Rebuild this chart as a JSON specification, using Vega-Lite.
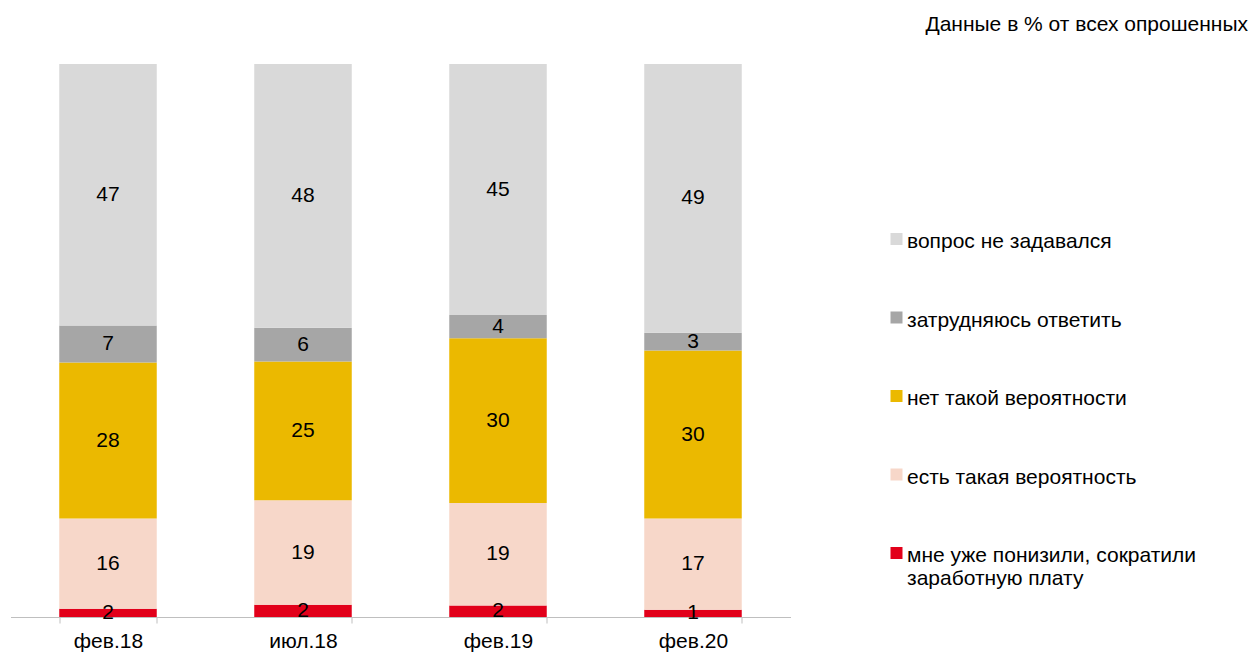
{
  "$schema": "https://vega.github.io/schema/vega-lite/v6.json",
  "width": 780,
  "height": 553,
  "autosize": {"type": "none"},
  "padding": {"left": 10.5, "top": 64, "right": 467.5, "bottom": 37},
  "background": "#ffffff",
  "config": {
    "view": {"stroke": null},
    "font": "Liberation Sans",
    "axis": {
      "title": null,
      "domainColor": "#bfbfbf",
      "tickColor": "#bfbfbf",
      "tickSize": 6,
      "tickBand": "extent",
      "labelFontSize": 21,
      "labelColor": "#000000",
      "labelFont": "Liberation Sans",
      "labelPadding": 7.5,
      "labelAngle": 0,
      "grid": false
    },
    "legend": {
      "orient": "none",
      "legendX": 875.5,
      "legendY": 156.5,
      "padding": 0,
      "symbolType": "M-1,0.333H1V2.333H-1Z",
      "symbolSize": 144,
      "symbolStrokeWidth": 0,
      "symbolOpacity": 1,
      "labelFontSize": 21,
      "labelFont": "Liberation Sans",
      "labelColor": "#000000",
      "labelBaseline": "top",
      "labelOffset": 0,
      "labelLimit": 400,
      "rowPadding": 46.5
    }
  },
  "title": {
    "text": "Данные в % от всех опрошенных",
    "anchor": "end",
    "frame": "group",
    "dx": 457.5,
    "fontSize": 21,
    "fontWeight": "normal",
    "color": "#000000",
    "font": "Liberation Sans",
    "baseline": "alphabetic",
    "offset": 12
  },
  "data": {
    "values": [
      {"period": "фев.18", "cat": "мне уже понизили, сократили заработную плату", "k": 1, "value": 1.5, "lbl": 2},
      {"period": "фев.18", "cat": "есть такая вероятность", "k": 2, "value": 16.3, "lbl": 16},
      {"period": "фев.18", "cat": "нет такой вероятности", "k": 3, "value": 28.2, "lbl": 28},
      {"period": "фев.18", "cat": "затрудняюсь ответить", "k": 4, "value": 6.7, "lbl": 7},
      {"period": "фев.18", "cat": "вопрос не задавался", "k": 5, "value": 47.3, "lbl": 47},
      {"period": "июл.18", "cat": "мне уже понизили, сократили заработную плату", "k": 1, "value": 2.2, "lbl": 2},
      {"period": "июл.18", "cat": "есть такая вероятность", "k": 2, "value": 18.9, "lbl": 19},
      {"period": "июл.18", "cat": "нет такой вероятности", "k": 3, "value": 25.1, "lbl": 25},
      {"period": "июл.18", "cat": "затрудняюсь ответить", "k": 4, "value": 6.1, "lbl": 6},
      {"period": "июл.18", "cat": "вопрос не задавался", "k": 5, "value": 47.7, "lbl": 48},
      {"period": "фев.19", "cat": "мне уже понизили, сократили заработную плату", "k": 1, "value": 2.1, "lbl": 2},
      {"period": "фев.19", "cat": "есть такая вероятность", "k": 2, "value": 18.5, "lbl": 19},
      {"period": "фев.19", "cat": "нет такой вероятности", "k": 3, "value": 29.8, "lbl": 30},
      {"period": "фев.19", "cat": "затрудняюсь ответить", "k": 4, "value": 4.2, "lbl": 4},
      {"period": "фев.19", "cat": "вопрос не задавался", "k": 5, "value": 45.4, "lbl": 45},
      {"period": "фев.20", "cat": "мне уже понизили, сократили заработную плату", "k": 1, "value": 1.3, "lbl": 1},
      {"period": "фев.20", "cat": "есть такая вероятность", "k": 2, "value": 16.5, "lbl": 17},
      {"period": "фев.20", "cat": "нет такой вероятности", "k": 3, "value": 30.4, "lbl": 30},
      {"period": "фев.20", "cat": "затрудняюсь ответить", "k": 4, "value": 3.2, "lbl": 3},
      {"period": "фев.20", "cat": "вопрос не задавался", "k": 5, "value": 48.6, "lbl": 49}
    ]
  },
  "encoding": {
    "x": {
      "field": "period",
      "type": "nominal",
      "sort": ["фев.18", "июл.18", "фев.19", "фев.20"],
      "scale": {"paddingInner": 0.5, "paddingOuter": 0.25}
    }
  },
  "layer": [
    {
      "mark": {"type": "bar"},
      "encoding": {
        "y": {"field": "value", "type": "quantitative", "stack": "zero", "scale": {"domain": [0, 100]}, "axis": null},
        "color": {
          "field": "cat",
          "type": "nominal",
          "scale": {
            "domain": ["вопрос не задавался", "затрудняюсь ответить", "нет такой вероятности", "есть такая вероятность", "мне уже понизили, сократили заработную плату"],
            "range": ["#d9d9d9", "#a6a6a6", "#ebb900", "#f7d7c9", "#e2001a"]
          },
          "legend": {
            "title": null,
            "labelExpr": "datum.label == 'мне уже понизили, сократили заработную плату' ? ['мне уже понизили, сократили', 'заработную плату'] : datum.label"
          }
        },
        "order": {"field": "k", "type": "quantitative"}
      }
    },
    {
      "mark": {"type": "text", "fontSize": 21, "color": "#000000", "font": "Liberation Sans"},
      "encoding": {
        "y": {"field": "value", "type": "quantitative", "stack": "zero", "bandPosition": 0.5},
        "detail": {"field": "cat", "type": "nominal"},
        "text": {"field": "lbl", "type": "quantitative"},
        "order": {"field": "k", "type": "quantitative"}
      }
    }
  ]
}
